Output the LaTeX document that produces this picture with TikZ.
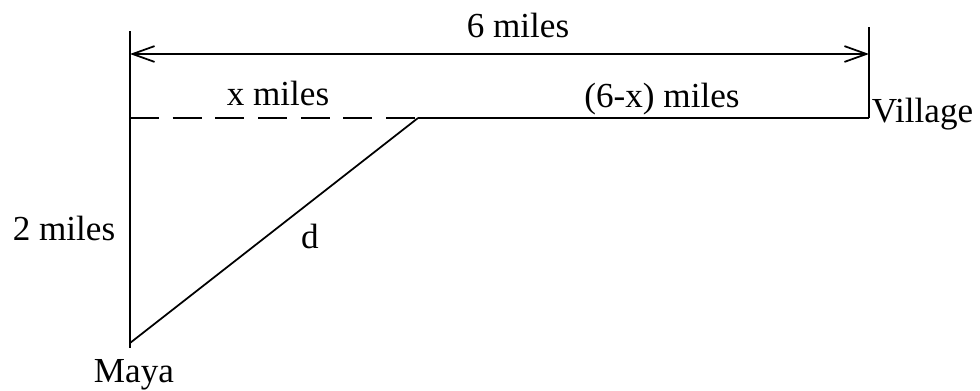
\documentclass[tikz,border=0pt]{standalone}
\usepackage{fontspec}
\setmainfont{Liberation Serif}
\usetikzlibrary{arrows.meta}

\begin{document}
\begin{tikzpicture}[x=0.02cm,y=-0.02cm,line width=1pt,
    every node/.style={inner sep=0pt,font=\fontsize{20}{22}\selectfont},
    lbl/.style={anchor=base},
    dimline/.style={{Straight Barb[length=12.5pt,width=9pt]}-{Straight Barb[length=12.5pt,width=9pt]}},
    dashline/.style={dash pattern=on 16.4pt off 7.9pt}]
  \useasboundingbox (0,0) rectangle (980,390);
  % points
  \coordinate (ltop) at (130,31);
  \coordinate (lbot) at (130,348);
  \coordinate (rtop) at (869,27);
  \coordinate (west) at (130,118);
  \coordinate (junc) at (418,118);
  \coordinate (vill) at (869,118);
  \coordinate (maya) at (130,343);
  \coordinate (dl) at (130,54);
  \coordinate (dr) at (869,54);
  % lines
  \draw (ltop) -- (lbot);
  \draw (rtop) -- (vill);
  \draw [dimline] (dl) -- (dr);
  \draw [dashline] (west) -- (junc);
  \draw (junc) -- (vill);
  \draw (maya) -- (junc);
  % labels
  \node [lbl] (six) at (518,37) {6 miles};
  \node [lbl] (xm) at (278,105) {x miles};
  \node [lbl] (sxm) at (662,107) {(6-x) miles};
  \node [anchor=base west] (vlab) at (871,122) {Village};
  \node [lbl] (two) at (64,240) {2 miles};
  \node [lbl] (dlab) at (310,248) {d};
  \node [lbl] (mlab) at (134,382) {Maya};
\end{tikzpicture}
\end{document}
